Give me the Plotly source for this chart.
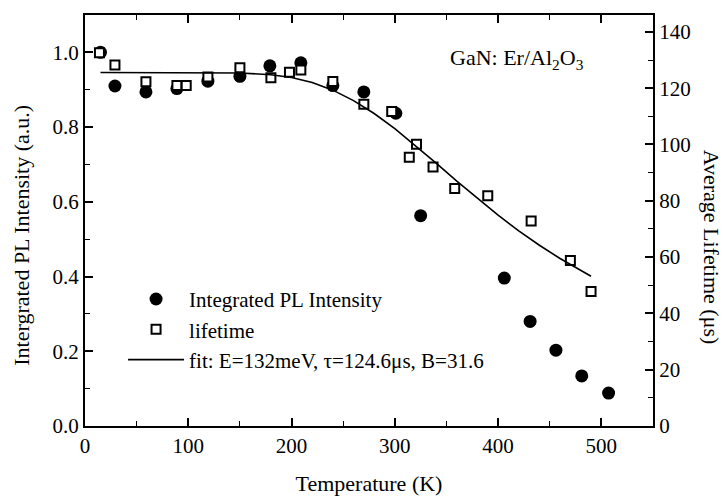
import plotly.graph_objects as go

# Integrated PL intensity (left axis, a.u.)
temp_pl = [15, 29, 59, 89, 119, 150, 179, 209, 240, 270, 301, 325, 406, 431, 456, 481, 507]
pl_intensity = [1.0, 0.910, 0.894, 0.903, 0.923, 0.936, 0.964, 0.972, 0.911, 0.894,
                0.837, 0.563, 0.396, 0.280, 0.203, 0.134, 0.088]

# Average lifetime (right axis, microseconds)
temp_tau = [14, 29, 59, 89, 98, 119, 150, 180, 198, 209, 240, 270, 297, 314, 321,
            337, 358, 390, 432, 470, 490]
lifetime = [132.6, 128.2, 122.3, 121.0, 121.0, 124.0, 127.3, 123.7, 125.7, 126.5,
            122.4, 114.3, 111.7, 95.5, 100.1, 92.0, 84.4, 81.8, 72.8, 58.8, 47.8]

# Fit curve (right axis, microseconds)
fit_temp = [15, 50, 100, 150, 180, 200, 220, 240, 260, 280, 300, 320, 340, 360,
            380, 400, 420, 440, 460, 480, 490]
fit_lifetime = [125.6, 125.6, 125.6, 125.4, 124.8, 123.8, 122.0, 119.3, 115.6, 111.0,
                105.6, 99.6, 93.4, 87.0, 80.8, 74.9, 69.3, 64.2, 59.5, 55.2, 53.2]

x_ticks = [0, 100, 200, 300, 400, 500]
y_ticks = [0.0, 0.2, 0.4, 0.6, 0.8, 1.0]
y2_ticks = [0, 20, 40, 60, 80, 100, 120, 140]

FONT = "Liberation Serif"
BLACK = "black"

fig = go.Figure()
fig.add_trace(go.Scatter(
    x=temp_pl, y=pl_intensity, mode="markers", name="Integrated PL Intensity",
    marker=dict(symbol="circle", size=13, color=BLACK, line=dict(width=0)),
))
fig.add_trace(go.Scatter(
    x=temp_tau, y=lifetime, yaxis="y2", mode="markers", name="lifetime",
    marker=dict(symbol="square", size=9, color="white", line=dict(color=BLACK, width=2)),
))
fig.add_trace(go.Scatter(
    x=fit_temp, y=fit_lifetime, yaxis="y2", mode="lines",
    name="fit: E=132meV, τ=124.6μs, B=31.6",
    line=dict(color=BLACK, width=1.6),
))

axis_common = dict(
    ticks="inside", ticklen=8, tickwidth=1.6, tickcolor=BLACK,
    showline=True, linecolor=BLACK, linewidth=2,
    showgrid=False, zeroline=False,
    tickfont=dict(family=FONT, size=21, color=BLACK),
)

fig.update_layout(
    width=723, height=504,
    margin=dict(l=85, r=70, t=15, b=70),
    plot_bgcolor="white", paper_bgcolor="white",
    font=dict(family=FONT, size=21, color=BLACK),
    showlegend=True,
    xaxis=dict(
        range=[0, 550], tickvals=x_ticks, mirror="ticks",
        minor=dict(dtick=50, tick0=0, ticks="inside", ticklen=5, tickwidth=1.4, tickcolor=BLACK),
        title=dict(text="Temperature (K)", font=dict(family=FONT, size=22, color=BLACK), standoff=18),
        **axis_common,
    ),
    yaxis=dict(
        range=[0, 1.1], tickvals=y_ticks, tickformat=".1f",
        minor=dict(dtick=0.1, tick0=0, ticks="inside", ticklen=5, tickwidth=1.4, tickcolor=BLACK),
        **axis_common,
    ),
    yaxis2=dict(
        range=[0, 146], tickvals=y2_ticks, overlaying="y", side="right",
        minor=dict(dtick=10, tick0=0, ticks="inside", ticklen=5, tickwidth=1.4, tickcolor=BLACK),
        **axis_common,
    ),
    legend=dict(
        x=0.067, y=0.358, xanchor="left", yanchor="top",
        itemwidth=56, bgcolor="rgba(0,0,0,0)", borderwidth=0,
        font=dict(family=FONT, size=21, color=BLACK),
    ),
    annotations=[
        dict(text="GaN: Er/Al<sub>2</sub>O<sub>3</sub>", xref="paper", yref="paper",
             x=0.639, y=0.8926, xanchor="left", yanchor="middle", showarrow=False,
             font=dict(family=FONT, size=22, color=BLACK)),
        dict(text="Intergrated PL Intensity (a.u.)", xref="paper", yref="paper",
             x=-0.1109, y=0.463, xanchor="center", yanchor="middle", textangle=-90,
             showarrow=False, font=dict(family=FONT, size=22, color=BLACK)),
        dict(text="Average Lifetime (μs)", xref="paper", yref="paper",
             x=1.102, y=0.434, xanchor="center", yanchor="middle", textangle=90,
             showarrow=False, font=dict(family=FONT, size=22, color=BLACK)),
    ],
)

fig.write_html("out.html")
